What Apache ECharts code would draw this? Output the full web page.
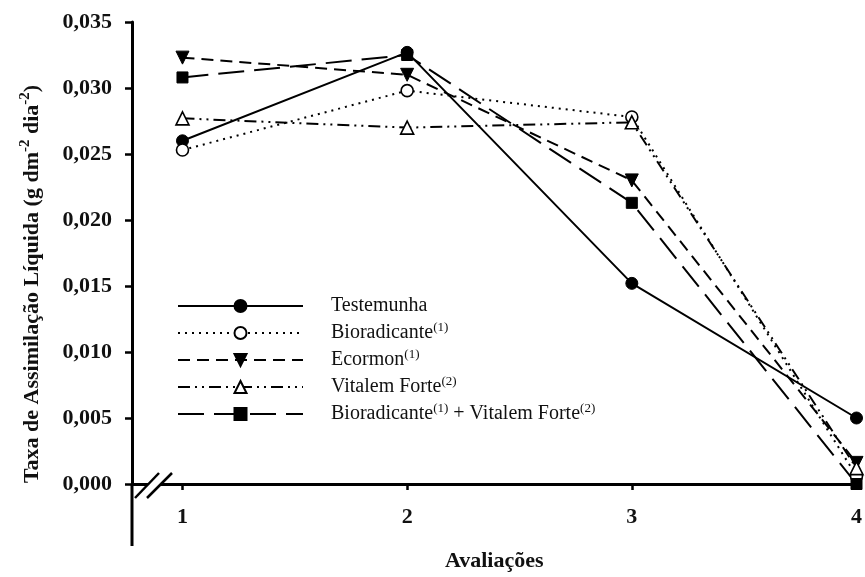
<!DOCTYPE html>
<html>
<head>
<meta charset="utf-8">
<script src="https://cdn.jsdelivr.net/npm/echarts@6/dist/echarts.min.js"></script>
<style>
  html, body { margin: 0; padding: 0; background: #fff; }
  #chart { width: 865px; height: 577px; }
</style>
</head>
<body>
<div id="chart"></div>
<script>
// Avaliações (evaluation dates)
const avaliacoes = [1, 2, 3, 4];

// Taxa de assimilação líquida per treatment (g dm-2 dia-2)
const testemunha   = [0.0260, 0.0327, 0.0152, 0.0050];
const bioradicante = [0.0253, 0.0298, 0.0278, 0.0006];
const ecormon      = [0.0323, 0.0310, 0.0230, 0.0016];
const vitalemForte = [0.0277, 0.0270, 0.0274, 0.0012];
const bioVitalem   = [0.0308, 0.0325, 0.0213, 0.0000];

const yTicks = [0, 0.005, 0.010, 0.015, 0.020, 0.025, 0.030, 0.035];

const SERIF = "'Liberation Serif', 'Times New Roman', serif";
const chart = echarts.init(document.getElementById('chart'));

const supStyle = { fontFamily: SERIF, fontSize: 13, lineHeight: 12, verticalAlign: 'top', color: '#111' };
const legendNames = {
  'Testemunha': 'Testemunha',
  'Bioradicante': 'Bioradicante{s|(1)}',
  'Ecormon': 'Ecormon{s|(1)}',
  'Vitalem Forte': 'Vitalem Forte{s|(2)}',
  'Bioradicante + Vitalem Forte': 'Bioradicante{s|(1)} + Vitalem Forte{s|(2)}'
};

function pairs(vals) { return vals.map((v, i) => [avaliacoes[i], v]); }

function makeSeries(name, vals, symbol, filled, dash, extra) {
  return Object.assign({
    name: name,
    type: 'line',
    data: pairs(vals),
    symbol: symbol,
    symbolSize: 12,
    showAllSymbol: true,
    clip: false,
    lineStyle: { color: '#000', width: 2, type: dash },
    itemStyle: filled
      ? { color: '#000', borderColor: '#000', borderWidth: 1 }
      : { color: '#fff', borderColor: '#000', borderWidth: 1.6 },
    emphasis: { disabled: true },
    animation: false
  }, extra || {});
}

const xMin = 0.7753;

chart.setOption({
  animation: false,
  grid: { left: 132, right: 1, top: 22, bottom: 87, containLabel: false },
  xAxis: {
    type: 'value',
    min: xMin,
    max: 4,
    name: 'Avaliações',
    nameLocation: 'middle',
    nameGap: 66,
    nameTextStyle: { fontFamily: SERIF, fontSize: 22, fontWeight: 'bold', color: '#111' },
    axisLine: { show: true, onZero: false, lineStyle: { color: '#000', width: 3 } },
    axisTick: { show: true, inside: false, length: 6, lineStyle: { color: '#000', width: 2.5 }, customValues: avaliacoes },
    axisLabel: { margin: 22, fontFamily: SERIF, fontSize: 22, fontWeight: 'bold', color: '#111', customValues: avaliacoes,
                 formatter: v => String(Math.round(v)) },
    splitLine: { show: false }
  },
  yAxis: {
    type: 'value',
    min: 0,
    max: 0.035,
    interval: 0.005,
    axisLine: { show: true, lineStyle: { color: '#000', width: 3 } },
    axisTick: { show: true, inside: false, length: 7, lineStyle: { color: '#000', width: 2.5 } },
    axisLabel: { margin: 20, fontFamily: SERIF, fontSize: 22, fontWeight: 'bold', color: '#111',
                 formatter: v => v.toFixed(3).replace('.', ',') },
    splitLine: { show: false }
  },
  legend: {
    orient: 'vertical',
    left: 172,
    top: 289,
    itemWidth: 125,
    itemHeight: 15,
    itemGap: 3,
    selectedMode: false,
    data: Object.keys(legendNames),
    formatter: n => '{g| }' + legendNames[n],
    textStyle: {
      fontFamily: SERIF, fontSize: 20, lineHeight: 24, color: '#111',
      rich: {
        g: { width: 23, fontSize: 20, fontFamily: SERIF },
        s: supStyle
      }
    }
  },
  series: [
    makeSeries('Testemunha', testemunha, 'circle', true, 'solid'),
    makeSeries('Bioradicante', bioradicante, 'circle', false, [2, 5]),
    makeSeries('Ecormon', ecormon, 'triangle', true, [12, 7], { symbolRotate: 180, symbolSize: 13 }),
    makeSeries('Vitalem Forte', vitalemForte, 'triangle', false, [12, 5, 2, 5, 2, 5], { symbolSize: 13 }),
    makeSeries('Bioradicante + Vitalem Forte', bioVitalem, 'rect', true, [26, 10], { symbolSize: 11 })
  ]
});

// Axis decorations: y axis running below zero, break marks on the x axis, rotated y title
const origin = chart.convertToPixel({ gridIndex: 0 }, [xMin, 0]);
const ox = origin[0], oy = origin[1];
chart.setOption({
  graphic: [
    { type: 'line', shape: { x1: ox, y1: oy, x2: ox, y2: oy + 62 }, style: { stroke: '#000', lineWidth: 3 }, z: 10 },
    { type: 'polygon', shape: { points: [[ox + 16, oy + 14], [ox + 40, oy - 11], [ox + 28, oy - 11], [ox + 4, oy + 14]] },
      style: { fill: '#fff' }, z: 11 },
    { type: 'line', shape: { x1: ox + 3, y1: oy + 14, x2: ox + 27, y2: oy - 11 }, style: { stroke: '#000', lineWidth: 2.5 }, z: 12 },
    { type: 'line', shape: { x1: ox + 15, y1: oy + 14, x2: ox + 40, y2: oy - 11 }, style: { stroke: '#000', lineWidth: 2.5 }, z: 12 },
    {
      type: 'text',
      x: 32, y: 284,
      rotation: Math.PI / 2,
      z: 20,
      style: {
        text: 'Taxa de Assimilação Líquida (g dm{s|-2} dia{s|-2})',
        fontFamily: SERIF, fontSize: 22, fontWeight: 'bold', fill: '#111',
        lineHeight: 28,
        align: 'center', verticalAlign: 'middle',
        rich: { s: { fontFamily: SERIF, fontSize: 15, fontWeight: 'bold', lineHeight: 15, verticalAlign: 'top', fill: '#111' } }
      }
    }
  ]
});
</script>
</body>
</html>
